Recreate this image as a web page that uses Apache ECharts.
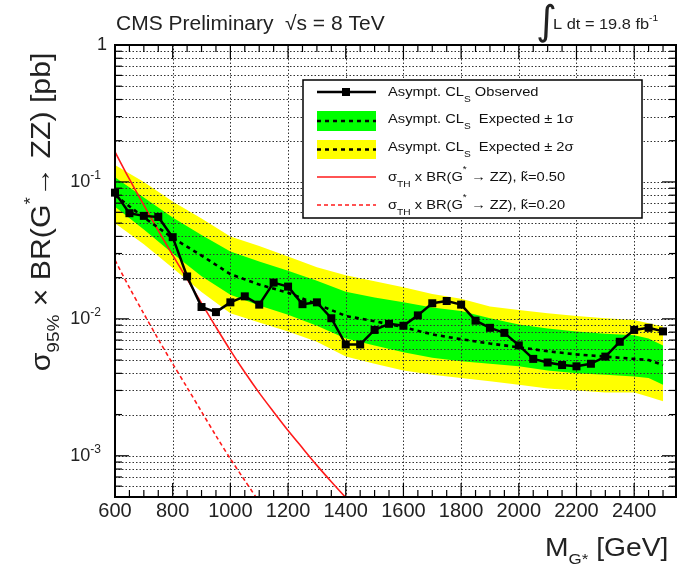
<!DOCTYPE html>
<html><head><meta charset="utf-8">
<script src="https://cdn.jsdelivr.net/npm/echarts@6/dist/echarts.min.js"></script>
<style>html,body{margin:0;padding:0;background:#fff}#c{width:679px;height:565px}</style>
</head><body><div id="c"></div>
<script>
// ---- data ----
const massObs = [600,650,700,750,800,850,900,950,1000,1050,1100,1150,1200,1250,1300,1350,1400,1450,1500,1550,1600,1650,1700,1750,1800,1850,1900,1950,2000,2050,2100,2150,2200,2250,2300,2350,2400,2450,2500];
const observed = [0.0835,0.0591,0.0565,0.0555,0.0395,0.0204,0.0122,0.0112,0.0132,0.0146,0.0127,0.0184,0.0172,0.0128,0.0132,0.0101,0.0065,0.0065,0.0083,0.0092,0.0089,0.0106,0.0130,0.0135,0.0127,0.0097,0.0086,0.0079,0.0064,0.0051,0.0048,0.0046,0.0045,0.0047,0.0053,0.0068,0.0083,0.0086,0.0081];

const massExp = [600,700,800,900,1000,1100,1200,1300,1400,1500,1600,1700,1800,1900,2000,2100,2200,2300,2400,2450,2500];
const exp2Up   = [0.133,0.100,0.072,0.054,0.040,0.034,0.0285,0.0238,0.0208,0.0188,0.0170,0.0152,0.0140,0.0123,0.0116,0.0110,0.0105,0.0101,0.0098,0.0093,0.0088];
const exp1Up   = [0.108,0.077,0.055,0.041,0.031,0.0262,0.0225,0.0190,0.0158,0.0143,0.0132,0.0121,0.0114,0.0101,0.0091,0.0085,0.0081,0.0078,0.0076,0.0072,0.0064];
const expMedian= [0.080,0.055,0.039,0.029,0.0212,0.0178,0.0155,0.0128,0.0105,0.0096,0.0087,0.0077,0.0071,0.0066,0.0062,0.0058,0.0055,0.0053,0.0051,0.0050,0.0046];
const exp1Down = [0.066,0.045,0.030,0.0205,0.0150,0.0125,0.0107,0.0089,0.0072,0.0064,0.0057,0.0052,0.0049,0.0047,0.0045,0.0042,0.0040,0.0039,0.0038,0.0037,0.0033];
const exp2Down = [0.050,0.035,0.0235,0.0157,0.0110,0.0094,0.0081,0.0068,0.0053,0.0047,0.0042,0.0039,0.0037,0.0035,0.0033,0.0031,0.0030,0.0029,0.0029,0.0027,0.0025];

const massTh050 = [600,650,700,750,800,850,900,950,1000,1050,1100,1150,1200,1250,1300,1350,1400];
const theoryK050 = [0.166,0.1047,0.0676,0.0442,0.0292,0.0195,0.0130,0.00871,0.00589,0.00407,0.00288,0.00209,0.00153,0.00114,0.000851,0.000646,0.000495];
const massTh020 = [600,650,700,750,800,850,900,950,1000,1050,1100];
const theoryK020 = [0.0268,0.0169,0.0109,0.0071,0.0047,0.00315,0.0021,0.0014,0.00095,0.00066,0.00046];

const xMajorTicks = [600,800,1000,1200,1400,1600,1800,2000,2200,2400];
const xMinorTicks = [650,700,750,850,900,950,1050,1100,1150,1250,1300,1350,1450,1500,1550,1650,1700,1750,1850,1900,1950,2050,2100,2150,2250,2300,2350,2450,2500];
const yMajorTicks = [0.001,0.01,0.1,1];
const yMinorTicks = [0.0006,0.0007,0.0008,0.0009,0.002,0.003,0.004,0.005,0.006,0.007,0.008,0.009,0.02,0.03,0.04,0.05,0.06,0.07,0.08,0.09,0.2,0.3,0.4,0.5,0.6,0.7,0.8,0.9];
const xGridLines = [800,1000,1200,1400,1600,1800,2000,2200,2400];

const X_MIN = 600, X_MAX = 2545, Y_MIN = 0.0005, Y_MAX = 1;
const FONT = 'Liberation Sans, Arial, Helvetica, sans-serif';
const SX = 1.13; // horizontal stretch of the reference's lettering

const chart = echarts.init(document.getElementById('c'), null, {renderer:'canvas'});

function bandSeries(lo, hi, color, z) {
  return {
    type:'custom', z:z, silent:true, clip:false,
    data: massExp.map((m,i)=>[m, lo[i], hi[i]]),
    encode:{x:0, y:[1,2]},
    renderItem(params, api) {
      if (params.dataIndex !== 0) return null;
      const pts = [];
      for (let i=0;i<massExp.length;i++) pts.push(api.coord([massExp[i], hi[i]]));
      for (let i=massExp.length-1;i>=0;i--) pts.push(api.coord([massExp[i], lo[i]]));
      return {type:'polygon', shape:{points:pts}, style:{fill:color}};
    }
  };
}

const gridSeries = {
  type:'custom', z:3, silent:true, clip:false,
  data:[[X_MIN, Y_MAX]],
  renderItem(params, api) {
    const cs = params.coordSys;
    const L = cs.x, R = cs.x + cs.width, T = cs.y, B = cs.y + cs.height;
    const ch = [];
    const dot = {stroke:'#333', lineWidth:1, lineDash:[1.5,2]};
    const tk = {stroke:'#000', lineWidth:1.2};
    yMajorTicks.concat(yMinorTicks).forEach(v => {
      const y = Math.round(api.coord([X_MIN, v])[1]) + 0.5;
      ch.push({type:'line', shape:{x1:L, y1:y, x2:R, y2:y}, style:dot});
    });
    xGridLines.forEach(v => {
      const x = Math.round(api.coord([v, Y_MIN])[0]) + 0.5;
      ch.push({type:'line', shape:{x1:x, y1:T, x2:x, y2:B}, style:dot});
    });
    yMajorTicks.forEach(v => {
      const y = api.coord([X_MIN, v])[1];
      ch.push({type:'line', shape:{x1:L, y1:y, x2:L+14, y2:y}, style:tk});
      ch.push({type:'line', shape:{x1:R-14, y1:y, x2:R, y2:y}, style:tk});
    });
    yMinorTicks.forEach(v => {
      const y = api.coord([X_MIN, v])[1];
      ch.push({type:'line', shape:{x1:L, y1:y, x2:L+7, y2:y}, style:tk});
      ch.push({type:'line', shape:{x1:R-7, y1:y, x2:R, y2:y}, style:tk});
    });
    xMajorTicks.forEach(v => {
      const x = api.coord([v, Y_MIN])[0];
      ch.push({type:'line', shape:{x1:x, y1:B, x2:x, y2:B-14}, style:tk});
      ch.push({type:'line', shape:{x1:x, y1:T, x2:x, y2:T+14}, style:tk});
    });
    xMinorTicks.forEach(v => {
      const x = api.coord([v, Y_MIN])[0];
      ch.push({type:'line', shape:{x1:x, y1:B, x2:x, y2:B-7}, style:tk});
      ch.push({type:'line', shape:{x1:x, y1:T, x2:x, y2:T+7}, style:tk});
    });
    return {type:'group', children:ch};
  }
};

const frameSeries = {
  type:'custom', z:10, silent:true, clip:false,
  data:[[X_MIN, Y_MAX]],
  renderItem(params) {
    const cs = params.coordSys;
    return {type:'rect', shape:{x:cs.x, y:cs.y, width:cs.width, height:cs.height},
            style:{fill:null, stroke:'#000', lineWidth:2}};
  }
};

const txtRich = {
  s:{fontSize:9, lineHeight:10, verticalAlign:'bottom', fontFamily:FONT, fill:'#111'},
  p:{fontSize:9, lineHeight:10, verticalAlign:'top', fontFamily:FONT, fill:'#111'}
};
function legText(y, text) {
  return {type:'text', x:388, y:y, z:102, scaleX:SX,
    style:{text:text, fontSize:13, fontFamily:FONT, fill:'#111', lineHeight:24, verticalAlign:'middle', align:'left', rich:txtRich}};
}

const option = {
  animation:false,
  backgroundColor:'#fff',
  grid:{left:115, right:2, top:45, bottom:68, show:false},
  xAxis:{
    type:'value', min:X_MIN, max:X_MAX, interval:200,
    axisLine:{show:false}, axisTick:{show:false}, splitLine:{show:false},
    axisLabel:{margin:4, fontSize:20, fontFamily:FONT, color:'#222',
      formatter: v => (xMajorTicks.indexOf(v) >= 0 ? String(v) : '')}
  },
  yAxis:{
    type:'log', logBase:10, min:Y_MIN, max:Y_MAX,
    axisLine:{show:false}, axisTick:{show:false}, splitLine:{show:false},
    axisLabel:{margin:8, fontFamily:FONT, color:'#222',
      formatter: v => {
        const e = Math.log10(v), r = Math.round(e);
        if (Math.abs(e - r) > 1e-6) return '';
        if (r === 0) return '{a|1}';
        return '{a|10}{b|' + r + '}';
      },
      rich:{
        a:{fontSize:18, lineHeight:24, fontFamily:FONT, color:'#222'},
        b:{fontSize:12, lineHeight:12, verticalAlign:'top', fontFamily:FONT, color:'#222', padding:[0,6,0,0]}
      }
    }
  },
  series:[
    bandSeries(exp2Down, exp2Up, '#ffff00', 1),
    bandSeries(exp1Down, exp1Up, '#00ff00', 2),
    gridSeries,
    {type:'line', z:4, data:massTh050.map((m,i)=>[m, theoryK050[i]]), showSymbol:false, symbol:'none', smooth:0.3,
      lineStyle:{color:'#ff1a1a', width:1.6}, silent:true},
    {type:'line', z:4, data:massTh020.map((m,i)=>[m, theoryK020[i]]), showSymbol:false, symbol:'none', smooth:0.3,
      lineStyle:{color:'#ff1a1a', width:1.6, type:[4,3]}, silent:true},
    {type:'line', z:5, data:massExp.map((m,i)=>[m, expMedian[i]]), showSymbol:false, symbol:'none',
      lineStyle:{color:'#000', width:2.6, type:[4,4]}, silent:true},
    {type:'line', z:6, data:massObs.map((m,i)=>[m, observed[i]]), symbol:'rect', symbolSize:8,
      itemStyle:{color:'#000'}, lineStyle:{color:'#000', width:2.5}, silent:true},
    frameSeries
  ],
  graphic:[
    {type:'text', x:116, y:24, z:100, scaleX:1.05, style:{text:'CMS Preliminary', fontSize:20, fontFamily:FONT, fill:'#222', verticalAlign:'middle'}},
    {type:'text', x:285, y:24, z:100, scaleX:1.05, style:{text:'\u221As = 8 TeV', fontSize:20, fontFamily:FONT, fill:'#222', verticalAlign:'middle'}},
    {type:'text', x:536, y:24, z:100, style:{text:'\u222B', fontSize:40, fontFamily:'DejaVu Sans', fill:'#222', verticalAlign:'middle'}},
    {type:'text', x:553, y:25, z:100, scaleX:SX, style:{text:'L dt = 19.8 fb{p|-1}', fontSize:14.5, fontFamily:FONT, fill:'#222', lineHeight:22, verticalAlign:'middle', rich:txtRich}},
    {type:'text', x:43, y:212, z:100, rotation:Math.PI/2, scaleX:1.12,
      style:{text:'\u03C3{s|95%} \u00D7 BR(G{p|*}\u2192 ZZ) [pb]', fontSize:27, fontFamily:FONT, fill:'#222', lineHeight:40, align:'center', verticalAlign:'middle',
        rich:{s:{fontSize:17, lineHeight:18, verticalAlign:'bottom', fontFamily:FONT, fill:'#222'},
              p:{fontSize:17, lineHeight:18, verticalAlign:'top', fontFamily:FONT, fill:'#222'}}}},
    {type:'text', x:545, y:549, z:100, scaleX:SX,
      style:{text:'M{s|G*} [GeV]', fontSize:25, fontFamily:FONT, fill:'#222', lineHeight:36, align:'left', verticalAlign:'middle',
        rich:{s:{fontSize:15, lineHeight:16, verticalAlign:'bottom', fontFamily:FONT, fill:'#222'}}}},
    // legend
    {type:'rect', z:100, shape:{x:303, y:80, width:339, height:138}, style:{fill:'#fff', stroke:'#000', lineWidth:1.5}},
    {type:'line', z:101, shape:{x1:317, y1:92, x2:376, y2:92}, style:{stroke:'#000', lineWidth:2.5}},
    {type:'rect', z:101, shape:{x:342, y:88, width:8, height:8}, style:{fill:'#000'}},
    legText(92, 'Asympt. CL{s|S} Observed'),
    {type:'rect', z:101, shape:{x:317, y:111, width:59, height:20}, style:{fill:'#00ff00'}},
    {type:'line', z:102, shape:{x1:317, y1:121, x2:376, y2:121}, style:{stroke:'#000', lineWidth:2.5, lineDash:[4,4]}},
    legText(119, 'Asympt. CL{s|S}  Expected \u00B1 1\u03C3'),
    {type:'rect', z:101, shape:{x:317, y:140, width:59, height:19}, style:{fill:'#ffff00'}},
    {type:'line', z:102, shape:{x1:317, y1:149.5, x2:376, y2:149.5}, style:{stroke:'#000', lineWidth:2.5, lineDash:[4,4]}},
    legText(147, 'Asympt. CL{s|S}  Expected \u00B1 2\u03C3'),
    {type:'line', z:101, shape:{x1:317, y1:177, x2:376, y2:177}, style:{stroke:'#ff1a1a', lineWidth:1.6}},
    legText(177, '\u03C3{s|TH} x BR(G{p|*} \u2192 ZZ), k\u0303=0.50'),
    {type:'line', z:101, shape:{x1:317, y1:205, x2:376, y2:205}, style:{stroke:'#ff1a1a', lineWidth:1.6, lineDash:[4,3]}},
    legText(205, '\u03C3{s|TH} x BR(G{p|*} \u2192 ZZ), k\u0303=0.20')
  ]
};
chart.setOption(option);
</script>
</body></html>
